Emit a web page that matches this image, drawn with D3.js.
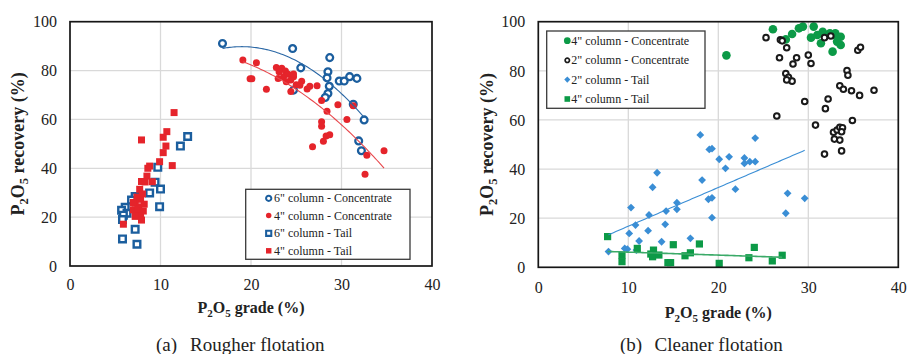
<!DOCTYPE html>
<html>
<head>
<meta charset="utf-8">
<script src="https://cdn.jsdelivr.net/npm/d3@7"></script>
<style>
  body { margin: 0; background: #fff; }
  svg { display: block; }
  svg text { font-family: 'Liberation Serif', 'Times New Roman', Times, serif; }
</style>
</head>
<body>
<svg id="fig" width="908" height="354"></svg>
<script>
// ---------- data: [P2O5 grade %, P2O5 recovery %] ----------
// (a) Rougher flotation
const roughConc6 = [[16.85,91.1],[24.6,89.0],[25.5,81.1],[28.7,85.3],[28.5,79.5],[28.4,77.0],[28.65,73.6],
  [28.5,70.6],[28.2,69.0],[24.7,72.0],[29.75,75.7],[30.3,75.7],[30.9,77.5],[31.7,76.8],[31.3,66.2],
  [32.5,59.8],[31.9,51.2],[32.2,47.2]];
const roughConc4 = [[19.1,84.3],[19.9,76.6],[20.1,76.6],[20.6,83.2],[21.7,72.3],[22.8,81.3],[23.4,80.9],
  [23.8,79.8],[23.1,79.5],[23.6,77.5],[24.1,78.5],[24.4,76.1],[24.7,77.5],[23.9,75.4],[23.0,76.8],
  [24.7,78.6],[24.4,71.4],[25.0,74.2],[25.6,75.6],[25.4,74.0],[26.2,72.5],[26.5,73.6],[27.3,73.8],
  [27.8,67.7],[28.4,63.3],[27.8,59.0],[27.8,57.2],[26.8,48.8],[28.0,51.1],[28.3,53.2],[28.7,53.7],
  [29.6,66.0],[30.6,60.0],[31.3,65.6],[32.8,45.3],[32.6,37.6],[34.7,47.2]];
const roughTail6 = [[13.0,53.0],[12.2,49.1],[9.7,40.4],[9.4,34.3],[10.0,31.5],[8.8,29.9],[9.9,24.3],
  [7.2,28.4],[6.8,27.0],[6.1,24.0],[5.7,22.8],[6.3,21.6],[5.9,20.8],[5.8,19.0],[7.2,15.0],[5.8,11.1],[7.4,8.9]];
const roughTail4 = [[11.5,62.8],[7.9,51.6],[10.7,55.0],[10.3,52.7],[10.6,49.1],[10.3,46.4],[9.9,42.7],
  [11.3,41.1],[8.8,40.9],[8.6,40.0],[8.5,36.8],[9.1,34.5],[7.9,34.6],[8.3,34.4],[7.7,31.4],[8.0,29.5],
  [7.4,28.2],[7.8,27.3],[7.2,25.7],[8.2,25.3],[7.6,24.2],[7.0,23.0],[7.4,22.0],[7.8,21.0],[7.2,20.3],
  [7.9,18.8],[5.9,17.1],[7.0,26.0],[7.5,23.5],[8.1,22.5]];

// (b) Cleaner flotation
const cleanConc4 = [[26.07,96.9],[20.9,86.3],[28.2,95.0],[28.96,97.3],[29.4,98.0],[30.6,98.0],[30.3,93.5],
  [31.4,91.2],[31.6,95.9],[32.8,94.6],[33.0,95.3],[33.6,93.9],[33.2,91.9],[33.6,90.5],[32.7,87.8],
  [31.0,94.6],[27.5,92.8],[32.4,95.3]];
const cleanConc2 = [[25.3,93.5],[26.9,92.6],[27.1,92.2],[27.6,89.4],[26.8,85.3],[28.7,85.3],[28.3,82.8],
  [30.0,86.4],[30.3,83.0],[31.8,93.5],[32.5,94.2],[35.5,88.4],[35.8,89.6],[27.5,78.9],[27.8,77.4],
  [28.2,75.8],[27.6,76.3],[34.3,80.1],[34.4,78.2],[33.5,73.9],[33.9,72.5],[34.8,71.9],[35.7,70.0],
  [37.3,72.1],[29.6,67.5],[32.2,68.5],[31.9,64.6],[26.5,61.6],[34.9,59.8],[30.8,57.9],[32.8,55.0],
  [33.2,55.9],[33.5,57.0],[33.8,56.8],[32.9,52.2],[33.5,51.8],[33.7,55.2],[33.7,47.4],[31.8,46.1]];
const cleanTail2 = [[7.8,6.4],[9.6,7.7],[9.9,7.4],[10.9,7.0],[10.1,13.8],[10.3,24.3],[10.8,17.2],
  [11.2,10.7],[12.3,21.3],[12.2,14.9],[12.7,32.6],[13.2,38.5],[14.2,22.9],[14.1,17.5],[13.7,10.4],
  [15.4,26.3],[15.4,23.6],[16.9,11.8],[18.0,53.9],[18.2,35.5],[19.0,48.0],[19.3,48.3],[18.9,27.7],
  [19.3,28.3],[19.3,20.2],[20.1,44.0],[20.8,40.3],[21.2,45.0],[21.9,31.8],[22.9,44.5],[22.9,42.3],
  [23.5,43.0],[24.1,43.0],[24.1,52.6],[27.7,30.1],[27.5,22.0],[29.6,28.1]];
const cleanTail4 = [[7.7,12.5],[9.3,5.0],[9.3,2.3],[11.0,7.7],[12.8,7.0],[12.5,5.4],[12.7,4.3],[13.4,5.0],
  [14.4,1.9],[14.7,1.9],[15.0,9.2],[16.3,4.7],[16.9,5.9],[17.9,9.5],[20.1,1.6],[23.4,3.9],[24.0,8.1],
  [26.0,2.6],[27.1,4.9]];

const xTicks = [0, 10, 20, 30, 40];
const yTicks = [0, 20, 40, 60, 80, 100];
const roughLabels = ['6" column - Concentrate', '4" column - Concentrate', '6" column - Tail', '4" column - Tail'];
const cleanLabels = ['4" column - Concentrate', '2" column - Concentrate', '2" column - Tail', '4" column - Tail'];

const SERIF = "'Liberation Serif', 'Times New Roman', Times, serif";
const INK = "#222";

// ---------- helpers ----------
// least-squares polynomial trendline coefficients (c0 + c1 x + c2 x^2 ...)
function polyfit(pts, order) {
  const n = order + 1;
  const A = Array.from({length: n}, () => new Array(n + 1).fill(0));
  pts.forEach(([x, y]) => {
    for (let i = 0; i < n; i++) {
      for (let j = 0; j < n; j++) A[i][j] += Math.pow(x, i + j);
      A[i][n] += y * Math.pow(x, i);
    }
  });
  for (let c = 0; c < n; c++) {
    let p = c;
    for (let r = c + 1; r < n; r++) if (Math.abs(A[r][c]) > Math.abs(A[p][c])) p = r;
    [A[c], A[p]] = [A[p], A[c]];
    for (let r = 0; r < n; r++) {
      if (r === c) continue;
      const f = A[r][c] / A[c][c];
      for (let k = c; k <= n; k++) A[r][k] -= f * A[c][k];
    }
  }
  return A.map((row, i) => row[n] / row[i]);
}

function markerPath(shape, s) {
  if (shape === "circle") return d3.symbol(d3.symbolCircle, Math.PI * s * s)();
  if (shape === "square") return d3.symbol(d3.symbolSquare, 4 * s * s)();
  if (shape === "diamond") return `M0,${-s}L${s},0L0,${s}L${-s},0Z`;
}

function drawMarker(g, sr, scale) {
  const k = scale || 1;
  g.attr("d", markerPath(sr.shape, sr.size * k))
    .attr("fill", sr.open ? "#fff" : sr.color)
    .attr("stroke", sr.color)
    .attr("stroke-width", sr.open ? sr.sw * (k < 1 ? 0.85 : 1) : 0);
}

const svg = d3.select("#fig").attr("font-family", SERIF);

// P2O5 label with subscripts
function chemLabel(t, rest, subSize) {
  t.attr("fill", INK).attr("font-weight", "bold");
  t.append("tspan").text("P");
  t.append("tspan").text("2").attr("font-size", subSize).attr("dy", 4);
  t.append("tspan").text("O").attr("dy", -4);
  t.append("tspan").text("5").attr("font-size", subSize).attr("dy", 4);
  t.append("tspan").text(rest).attr("dy", -4);
}

const panels = [
  {
    box: {x0: 70, x1: 432, y0: 21.7, y1: 266},
    xLabelY: 290, xTitleY: 313, yTitleX: 18,
    caption: {tag: "(a)", tagX: 156, text: "Rougher flotation", textX: 190, y: 351},
    series: [
      {data: roughConc6, label: roughLabels[0], shape: "circle", open: true, color: "#1B5E9E", size: 3.4, sw: 2.3,
       fit: {order: 2, color: "#2A67A5", width: 1.1}},
      {data: roughConc4, label: roughLabels[1], shape: "circle", open: false, color: "#E5242B", size: 3.5,
       fit: {order: 2, color: "#E8474C", width: 1.1}},
      {data: roughTail6, label: roughLabels[2], shape: "square", open: true, color: "#1B5E9E", size: 3.3, sw: 2.4},
      {data: roughTail4, label: roughLabels[3], shape: "square", open: false, color: "#E5242B", size: 3.5}
    ],
    legend: {x0: 245.7, x1: 410, y0: 189.3, y1: 259.3, markerX: 268.7, textX: 274, rows: [198.3, 215.5, 233.3, 250.8]}
  },
  {
    box: {x0: 538.3, x1: 898.3, y0: 21.7, y1: 267.3},
    xLabelY: 293, xTitleY: 318, yTitleX: 487,
    caption: {tag: "(b)", tagX: 620, text: "Cleaner flotation", textX: 654.5, y: 351},
    series: [
      {data: cleanConc4, label: cleanLabels[0], shape: "circle", open: false, color: "#0C9A47", size: 4.3},
      {data: cleanConc2, label: cleanLabels[1], shape: "circle", open: true, color: "#1A1A1A", size: 2.8, sw: 2.0},
      {data: cleanTail2, label: cleanLabels[2], shape: "diamond", open: false, color: "#3A8ED5", size: 3.9,
       fit: {order: 1, color: "#3A8ED5", width: 1.1}},
      {data: cleanTail4, label: cleanLabels[3], shape: "square", open: false, color: "#0C9A47", size: 3.6,
       fit: {order: 1, color: "#3BAA68", width: 1.6}}
    ],
    legend: {x0: 546.7, x1: 705, y0: 31, y1: 108.3, markerX: 567.3, textX: 571.3, rows: [40.7, 60.3, 79.6, 99.0]}
  }
];

panels.forEach(p => {
  const b = p.box;
  const x = d3.scaleLinear().domain([0, 40]).range([b.x0, b.x1]);
  const y = d3.scaleLinear().domain([0, 100]).range([b.y1, b.y0]);
  const g = svg.append("g");

  // gridlines
  g.append("g").selectAll("line").data(xTicks.slice(1, -1)).join("line")
    .attr("x1", d => x(d)).attr("x2", d => x(d)).attr("y1", b.y0).attr("y2", b.y1)
    .attr("stroke", "#d9d9d9").attr("stroke-width", 1.3);
  g.append("g").selectAll("line").data(yTicks.slice(1, -1)).join("line")
    .attr("y1", d => y(d)).attr("y2", d => y(d)).attr("x1", b.x0).attr("x2", b.x1)
    .attr("stroke", "#d9d9d9").attr("stroke-width", 1.3);

  // axes with labels only (no tick marks)
  const xa = g.append("g").attr("transform", `translate(0,${b.y1})`)
    .call(d3.axisBottom(x).tickValues(xTicks).tickSize(0).tickPadding(0))
    .attr("font-family", SERIF).attr("font-size", 16);
  xa.select(".domain").remove();
  xa.selectAll("text").attr("y", p.xLabelY - b.y1).attr("dy", 0).attr("fill", INK);
  const ya = g.append("g").attr("transform", `translate(${b.x0},0)`)
    .call(d3.axisLeft(y).tickValues(yTicks).tickSize(0).tickPadding(13))
    .attr("font-family", SERIF).attr("font-size", 16);
  ya.select(".domain").remove();
  ya.selectAll("text").attr("dy", "0.33em").attr("fill", INK);

  // markers
  p.series.forEach(sr => {
    g.append("g").selectAll("path").data(sr.data).join("path")
      .attr("transform", d => `translate(${x(d[0])},${y(d[1])})`)
      .each(function () { drawMarker(d3.select(this), sr); });
  });

  // trendlines over the data range of each series
  p.series.filter(sr => sr.fit).forEach(sr => {
    const c = polyfit(sr.data, sr.fit.order);
    const [lo, hi] = d3.extent(sr.data, d => d[0]);
    const xs = d3.range(lo, hi, (hi - lo) / 80).concat([hi]);
    const pts = xs.map(v => [v, c.reduce((s, ci, i) => s + ci * Math.pow(v, i), 0)]);
    g.append("path").datum(pts)
      .attr("d", d3.line().x(d => x(d[0])).y(d => y(d[1])))
      .attr("fill", "none").attr("stroke", sr.fit.color).attr("stroke-width", sr.fit.width);
  });

  // plot frame
  g.append("rect").attr("x", b.x0).attr("y", b.y0).attr("width", b.x1 - b.x0).attr("height", b.y1 - b.y0)
    .attr("fill", "none").attr("stroke", "#161616").attr("stroke-width", 1.7);

  // legend
  const L = p.legend;
  const lg = g.append("g");
  lg.append("rect").attr("x", L.x0).attr("y", L.y0).attr("width", L.x1 - L.x0).attr("height", L.y1 - L.y0)
    .attr("fill", "#fff").attr("stroke", "#3a3a3a").attr("stroke-width", 1.3);
  p.series.forEach((sr, i) => {
    lg.append("path").attr("transform", `translate(${L.markerX},${L.rows[i]})`)
      .call(s => drawMarker(s, sr, 0.78));
    lg.append("text").attr("x", L.textX).attr("y", L.rows[i]).attr("dy", "0.34em")
      .attr("font-size", 12).attr("fill", INK).text(sr.label);
  });

  // axis titles
  const cx = (b.x0 + b.x1) / 2, cy = (b.y0 + b.y1) / 2;
  const xt = g.append("text").attr("x", cx).attr("y", p.xTitleY).attr("text-anchor", "middle")
    .attr("font-size", 16);
  chemLabel(xt, " grade (%)", 11);
  const yt = g.append("text").attr("transform", `translate(${p.yTitleX},${cy}) rotate(-90)`)
    .attr("text-anchor", "middle").attr("dy", "0.35em")
    .attr("font-size", 18);
  chemLabel(yt, " recovery (%)", 12.5);

  // caption
  g.append("text").attr("x", p.caption.tagX).attr("y", p.caption.y).attr("font-size", 19)
    .attr("fill", INK).text(p.caption.tag);
  g.append("text").attr("x", p.caption.textX).attr("y", p.caption.y).attr("font-size", 19)
    .attr("fill", INK).text(p.caption.text);
});
</script>
</body>
</html>
